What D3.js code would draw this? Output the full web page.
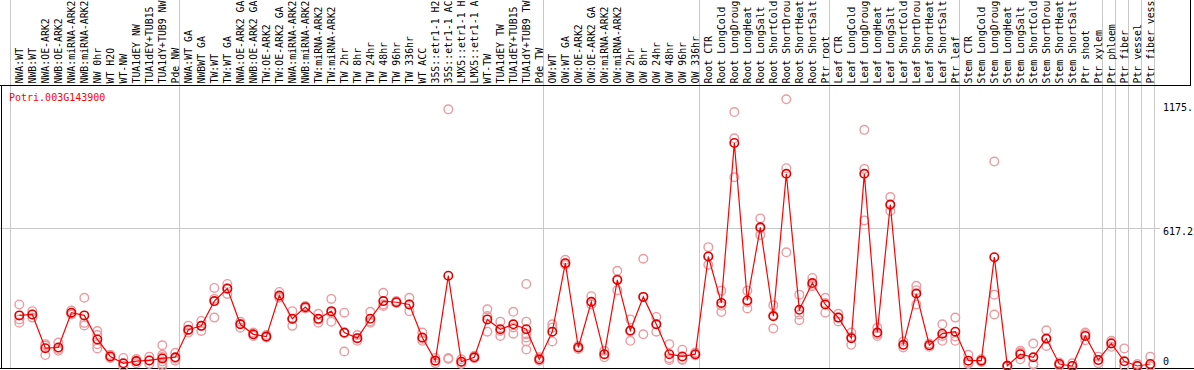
<!DOCTYPE html>
<html>
<head>
<meta charset="utf-8">
<script src="https://d3js.org/d3.v7.min.js"></script>
<style>
  body { margin: 0; background: #fff; }
  svg text { font-family: "DejaVu Sans Mono", monospace; font-size: 10px; }
</style>
</head>
<body>
<div id="chart"></div>
<script>
// sample names, one column each (as far as the header shows them)
var categories = [
  "NWA:WT", "NWB:WT", "NWA:OE-ARK2", "NWB:OE-ARK2", "NWA:miRNA-ARK2", "NWB:miRNA-ARK2",
  "NW 0hr", "WT H2O", "WT-NW", "TUA1dEY NW", "TUA1dEY+TUB15", "TUA1dY+TUB9 NW", "Pde NW",
  "NWA:WT GA", "NWBWT GA", "TW:WT", "TW:WT GA", "NWA:OE-ARK2 GA", "NWB:OE-ARK2 GA",
  "TW:OE-ARK2", "TW:OE-ARK2 GA", "NWA:miRNA-ARK2", "NWB:miRNA-ARK2", "TW:miRNA-ARK2",
  "TW:miRNA-ARK2", "TW 2hr", "TW 8hr", "TW 24hr", "TW 48hr", "TW 96hr", "TW 336hr",
  "WT ACC", "35S::etr1-1 H2", "35S::etr1-1 AC", "LMX5::etr1-1 H", "LMX5::etr1-1 A",
  "WT-TW", "TUA1dEY TW", "TUA1dEY+TUB15", "TUA1dY+TUB9 TW", "Pde TW",
  "OW:WT", "OW:WT GA", "OW:OE-ARK2", "OW:OE-ARK2 GA", "OW:miRNA-ARK2", "OW:miRNA-ARK2",
  "OW 2hr", "OW 8hr", "OW 24hr", "OW 48hr", "OW 96hr", "OW 336hr",
  "Root CTR", "Root LongCold", "Root LongDroug", "Root LongHeat", "Root LongSalt",
  "Root ShortCold", "Root ShortDrou", "Root ShortHeat", "Root ShortSalt", "Ptr root",
  "Leaf CTR", "Leaf LongCold", "Leaf LongDroug", "Leaf LongHeat", "Leaf LongSalt",
  "Leaf ShortCold", "Leaf ShortDrou", "Leaf ShortHeat", "Leaf ShortSalt", "Ptr leaf",
  "Stem CTR", "Stem LongCold", "Stem LongDroug", "Stem LongHeat", "Stem LongSalt",
  "Stem ShortCold", "Stem ShortDrou", "Stem ShortHeat", "Stem ShortSalt", "Ptr shoot",
  "Ptr xylem", "Ptr phloem", "Ptr fiber", "Ptr vessel", "Ptr fiber vess"
];

// number of columns in each experiment block
var groupSizes = [13, 28, 12, 10, 10, 11, 1, 1, 1, 1];

// mean expression per sample
var means = [
  227, 231, 80, 83, 239, 227, 119, 43, 12, 22, 25, 34, 39,
  163, 180, 291, 347, 187, 142, 132, 316, 212, 264, 212, 246, 150, 125, 212, 291, 286, 276,
  128, 24, 405, 19, 39, 209, 165, 187, 165, 30,
  154, 461, 83, 288, 53, 386, 159, 310, 187, 53, 43, 53,
  491, 283, 1000, 294, 622, 223, 862, 252, 372, 276,
  217, 125, 862, 150, 724, 95, 325, 93, 145, 154,
  24, 24, 488, 1, 53, 39, 123, 9, 0, 135, 27,
  101, 21, 0, 9
];

// replicate values per sample
var replicates = [
  [276, 209, 194], [246, 231, 217], [98, 92, 49], [105, 76, 68], [249, 237, 231],
  [306, 193, 182], [157, 139, 98, 79], [50, 43, 36], [36, 0, 0], [31, 22, 12],
  [42, 25, 9], [93, 50, 40, 20, 9, 0], [59, 34, 24],
  [181, 160, 150], [202, 180, 157], [350, 301, 217], [368, 350, 323], [199, 190, 172],
  [150, 142, 135], [139, 132, 128], [332, 310, 306], [246, 210, 180], [269, 265, 258],
  [234, 208, 194], [301, 240, 199], [239, 147, 65], [139, 125, 113], [243, 200, 194],
  [328, 276, 269], [291, 286, 283], [306, 276, 246], [150, 122, 113], [36, 24, 12],
  [1151, 36, 31], [30, 19, 9], [46, 36, 35], [254, 224, 154], [199, 157, 135],
  [243, 173, 145], [368, 199, 142, 128, 110, 74], [39, 27, 24],
  [187, 172, 110], [476, 461, 454], [90, 83, 76], [313, 288, 276], [68, 53, 39],
  [427, 390, 340], [209, 155, 113], [481, 310, 142], [220, 187, 154], [98, 35, 27],
  [73, 30, 27], [61, 50, 48],
  [533, 491, 454], [338, 270, 242], [1139, 1021, 847], [338, 286, 258], [662, 617, 588],
  [273, 228, 168], [1196, 887, 510], [320, 231, 205], [395, 364, 358], [306, 283, 239],
  [234, 217, 200], [150, 130, 95], [1059, 884, 653], [172, 143, 135], [758, 720, 695],
  [110, 95, 83], [360, 340, 276], [101, 93, 86], [187, 135, 113], [217, 132, 113],
  [50, 15, 9], [30, 24, 18], [917, 320, 231], [2, 1, 0], [68, 60, 30], [101, 9, 6],
  [160, 120, 90], [16, 9, 1], [12, 0, 0], [150, 142, 116], [42, 27, 12],
  [113, 104, 86], [79, 0, 0], [9, 0, 0], [42, 0, 0]
];

var yTicks = [0, 617.2, 1175];
var yTickLabels = ["0", "617.2", "1175."];
var geneName = "Potri.003G143900";

var W = 1194, H = 370;
var headerBottom = 85, plotBottom = 368;

var svg = d3.select("#chart").append("svg")
    .attr("width", W)
    .attr("height", H);

// column scale (one band per sample)
var x = d3.scaleBand()
    .domain(d3.range(categories.length))
    .range([11, 1155])
    .paddingInner(0).paddingOuter(0);
var bw = x.bandwidth();
function cx(i) { return x(i) + bw * 0.64; }

var y = d3.scaleLinear().domain([0, 1175]).range([366, 104]);

// horizontal gridline at the middle tick
svg.append("line")
    .attr("x1", 0).attr("x2", 1160)
    .attr("y1", Math.round(y(617.2)) + 0.5).attr("y2", Math.round(y(617.2)) + 0.5)
    .attr("stroke", "#c8c8c8").attr("stroke-width", 1);

// vertical block separators
var bounds = [0];
groupSizes.forEach(function(s) { bounds.push(bounds[bounds.length - 1] + s); });
svg.selectAll(".sep").data(bounds).enter().append("line")
    .attr("class", "sep")
    .attr("x1", function(b) { return (b < categories.length ? x(b) : x.range()[1]) - 0.5; })
    .attr("x2", function(b) { return (b < categories.length ? x(b) : x.range()[1]) - 0.5; })
    .attr("y1", 0).attr("y2", plotBottom)
    .attr("stroke", "#c8c8c8").attr("stroke-width", 1);

// frame lines
svg.append("line").attr("x1", 0).attr("x2", 1191).attr("y1", headerBottom + 0.5).attr("y2", headerBottom + 0.5)
    .attr("stroke", "#000").attr("stroke-width", 1);
svg.append("line").attr("x1", 0).attr("x2", W).attr("y1", plotBottom + 0.5).attr("y2", plotBottom + 0.5)
    .attr("stroke", "#000").attr("stroke-width", 1);
svg.append("line").attr("x1", 1.5).attr("x2", 1.5).attr("y1", headerBottom).attr("y2", plotBottom)
    .attr("stroke", "#000").attr("stroke-width", 1);
svg.append("line").attr("x1", 1190.5).attr("x2", 1190.5).attr("y1", 0).attr("y2", headerBottom)
    .attr("stroke", "#000").attr("stroke-width", 1);

// sample labels, rotated
svg.selectAll(".lab").data(categories).enter().append("text")
    .attr("class", "lab")
    .attr("transform", function(d, i) { return "translate(" + (cx(i) + 3.8) + "," + 83.5 + ") rotate(-90)"; })
    .attr("fill", "#000")
    .style("font-size", "9.85px")
    .text(function(d) { return d; });

// right hand value labels
svg.selectAll(".ytick").data(yTicks).enter().append("text")
    .attr("class", "ytick")
    .attr("x", 1163)
    .attr("y", function(d) { return Math.min(y(d) + 7, 365); })
    .attr("fill", "#000")
    .text(function(d, i) { return yTickLabels[i]; });

// gene name
svg.append("text")
    .attr("x", 9).attr("y", 101)
    .attr("fill", "#ff0000")
    .text(geneName);

// replicate points
var repPts = [];
replicates.forEach(function(arr, i) {
  arr.forEach(function(v) { repPts.push({i: i, v: v}); });
});
svg.selectAll(".rep").data(repPts).enter().append("circle")
    .attr("class", "rep")
    .attr("cx", function(d) { return cx(d.i); })
    .attr("cy", function(d) { return y(d.v); })
    .attr("r", 4.3)
    .attr("fill", "none")
    .attr("stroke", "#ec9a9f")
    .attr("stroke-width", 1.4);

// mean line
var line = d3.line()
    .x(function(d, i) { return cx(i); })
    .y(function(d) { return y(d); });
svg.append("path")
    .datum(means)
    .attr("d", line)
    .attr("fill", "none")
    .attr("stroke", "#ff0000")
    .attr("stroke-width", 1.2);

// mean points
svg.selectAll(".mean").data(means).enter().append("circle")
    .attr("class", "mean")
    .attr("cx", function(d, i) { return cx(i); })
    .attr("cy", function(d) { return y(d); })
    .attr("r", 4.2)
    .attr("fill", "none")
    .attr("stroke", "#e00000")
    .attr("stroke-width", 1.6);
</script>
</body>
</html>
